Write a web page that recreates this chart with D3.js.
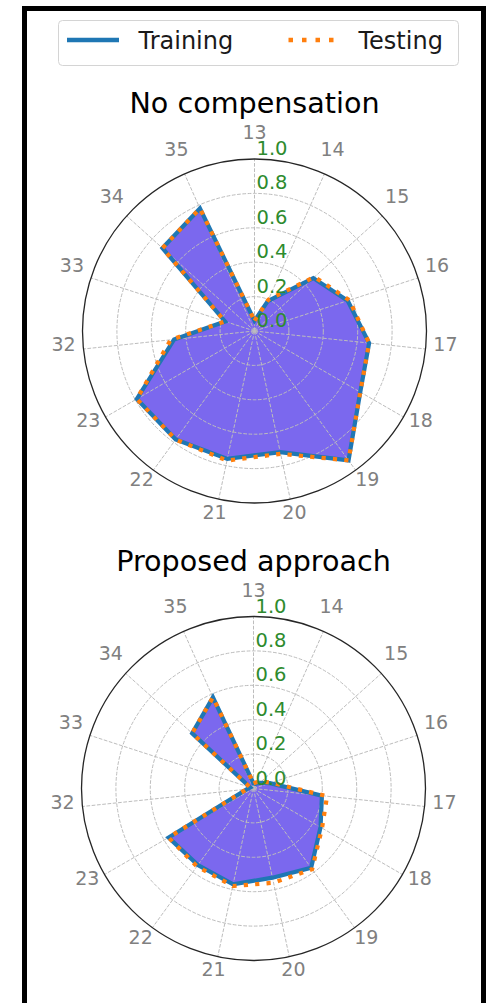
<!DOCTYPE html>
<html>
<head>
<meta charset="utf-8">
<script src="https://cdn.jsdelivr.net/npm/d3@7"></script>
<style>
  html, body { margin: 0; padding: 0; background: #fff; }
  svg { display: block; font-family: "DejaVu Sans", sans-serif; }
</style>
</head>
<body>
<svg id="fig" width="488" height="1003"></svg>
<script>
// Category labels around the circle (clockwise from the top)
const categories = ["13", "14", "15", "16", "17", "18", "19", "20", "21", "22", "23", "32", "33", "34", "35"];

// Accuracy per category, no compensation
const noCompTraining = [0.06, 0.19, 0.46, 0.57, 0.67, 0.71, 0.93, 0.72, 0.76, 0.78, 0.79, 0.47, 0.18, 0.72, 0.78];
const noCompTesting  = [0.06, 0.20, 0.47, 0.58, 0.67, 0.71, 0.93, 0.73, 0.77, 0.78, 0.79, 0.49, 0.18, 0.72, 0.78];

// Accuracy per category, proposed approach
const proposedTraining = [0.03, 0.03, 0.05, 0.10, 0.40, 0.45, 0.57, 0.53, 0.57, 0.55, 0.57, 0.04, 0.02, 0.48, 0.58];
const proposedTesting  = [0.03, 0.04, 0.06, 0.11, 0.43, 0.46, 0.58, 0.56, 0.58, 0.56, 0.57, 0.04, 0.02, 0.48, 0.58];

// Radial tick values
const radialTicks = [0.0, 0.2, 0.4, 0.6, 0.8, 1.0];

const seriesNames = ["Training", "Testing"];

const svg = d3.select("#fig");
const R = 172;
const fmt = d3.format(".1f");

const rScale = d3.scaleLinear().domain([0, 1]).range([0, R]);
const aScale = d3.scaleLinear().domain([0, categories.length]).range([0, 2 * Math.PI]);

const trainColor = "#1f77b4";
const testColor = "#ff7f0e";
const fillColor = "#7b68ee";

function drawPolar(cx, cy, title, train, test) {
  const g = svg.append("g").attr("transform", `translate(${cx},${cy})`);

  const pts = v => v.map((d, i) => ({ a: aScale(i), r: rScale(d) }));

  // filled area of the training series
  const area = d3.areaRadial()
    .angle(d => d.a)
    .innerRadius(0)
    .outerRadius(d => d.r)
    .curve(d3.curveLinearClosed);
  g.append("path")
    .attr("d", d3.lineRadial().angle(d => d.a).radius(d => d.r).curve(d3.curveLinearClosed)(pts(train)))
    .attr("fill", fillColor)
    .attr("stroke", "none");

  // grid: dashed circles and spokes
  const grid = g.append("g").attr("fill", "none").attr("stroke", "#bdbdbd")
    .attr("stroke-width", 1).attr("stroke-dasharray", "3.7,1.6");
  radialTicks.filter(t => t > 0 && t < 1).forEach(t => {
    grid.append("circle").attr("r", rScale(t));
  });
  categories.forEach((c, i) => {
    const a = aScale(i);
    grid.append("line")
      .attr("x1", 0).attr("y1", 0)
      .attr("x2", rScale(1) * Math.sin(a))
      .attr("y2", -rScale(1) * Math.cos(a));
  });

  // outer spine
  g.append("circle").attr("r", rScale(1)).attr("fill", "none")
    .attr("stroke", "#262626").attr("stroke-width", 1.3);

  const line = d3.lineRadial().angle(d => d.a).radius(d => d.r).curve(d3.curveLinearClosed);

  g.append("path").attr("d", line(pts(train)))
    .attr("fill", "none").attr("stroke", trainColor)
    .attr("stroke-width", 4.2).attr("stroke-linejoin", "miter");
  g.append("path").attr("d", line(pts(test)))
    .attr("fill", "none").attr("stroke", testColor)
    .attr("stroke-width", 4.2).attr("stroke-dasharray", "4.2,7.2");

  // angular tick labels
  categories.forEach((c, i) => {
    const a = aScale(i);
    g.append("text")
      .attr("x", 192 * Math.sin(a))
      .attr("y", -192 * Math.cos(a))
      .attr("text-anchor", "middle")
      .attr("font-size", 19)
      .attr("fill", "#808080")
      .text(c);
  });

  // radial tick labels
  radialTicks.forEach(t => {
    g.append("text")
      .attr("x", 2)
      .attr("y", -rScale(t) - 4)
      .attr("font-size", 19.5)
      .attr("fill", "#2e8b2e")
      .text(fmt(t));
  });

  // title
  g.append("text")
    .attr("x", 0).attr("y", -218)
    .attr("text-anchor", "middle")
    .attr("font-size", 28.6)
    .attr("fill", "#000")
    .text(title);
}

drawPolar(254.5, 331, "No compensation", noCompTraining, noCompTesting);
drawPolar(253.5, 788.5, "Proposed approach", proposedTraining, proposedTesting);

// legend
const lg = svg.append("g");
lg.append("rect").attr("x", 58.5).attr("y", 20.5).attr("width", 400).attr("height", 45)
  .attr("rx", 4).attr("fill", "#fff").attr("stroke", "#d4d4d4").attr("stroke-width", 1);
lg.append("line").attr("x1", 67).attr("x2", 119).attr("y1", 40).attr("y2", 40)
  .attr("stroke", trainColor).attr("stroke-width", 4.5);
lg.append("text").attr("x", 138.5).attr("y", 48.5).attr("font-size", 24).attr("fill", "#1a1a1a").text(seriesNames[0]);
lg.append("line").attr("x1", 288.5).attr("x2", 334).attr("y1", 40).attr("y2", 40)
  .attr("stroke", testColor).attr("stroke-width", 4.5).attr("stroke-dasharray", "4.5,9");
lg.append("text").attr("x", 358.5).attr("y", 48.5).attr("font-size", 24).attr("fill", "#1a1a1a").text(seriesNames[1]);

// figure frame
svg.append("rect").attr("x", 24.5).attr("y", 8.5).attr("width", 459).attr("height", 1000)
  .attr("fill", "none").attr("stroke", "#000").attr("stroke-width", 5);
</script>
</body>
</html>
